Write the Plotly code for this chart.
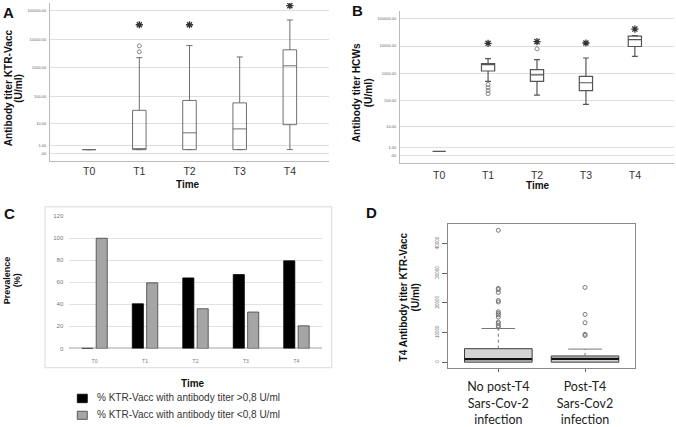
import numpy as np
import plotly.graph_objects as go

W, H = 676, 427
def px(x): return x / W
def py(y): return 1 - y / H
def tr(v): return np.log10(np.asarray(v, dtype=float) + 1)

time_labels = ["T0", "T1", "T2", "T3", "T4"]
log_ticks = [0, 1, 10, 100, 1000, 10000, 100000]
log_tick_text = [".00", "1.00", "10.00", "100.00", "1000.00", "10000.00", "100000.00"]

# Panel A: KTR-Vacc antibody titer (U/ml)
a_lower = [0.4, 0.4, 0.4, 0.4, 0.4]
a_q1 = [0.4, 0.4, 0.4, 0.4, 9.4]
a_median = [0.4, 0.4, 4.4, 6.4, 1180]
a_q3 = [0.4, 32, 72, 59, 4270]
a_upper = [0.4, 2270, 6000, 2400, 47000]
a_out_x = ["T1", "T1"]
a_out_y = [3640, 5870]
a_star_x = ["T1", "T2", "T4"]
a_star_y = [32000, 32000, 148000]

# Panel B: HCWs antibody titer (U/ml)
b_lower = [0.4, 505, 158, 73, 4200]
b_q1 = [0.4, 1220, 505, 234, 9600]
b_median = [0.4, 2250, 875, 453, 17200]
b_q3 = [0.4, 2290, 1360, 780, 23200]
b_upper = [0.4, 3450, 3200, 3650, 24000]
b_out_x = ["T1", "T1", "T1", "T1", "T2"]
b_out_y = [390, 300, 235, 180, 7900]
b_star_x = ["T1", "T2", "T3", "T4"]
b_star_y = [12600, 14500, 12900, 41700]

# Panel C: prevalence (%)
c_above = [0, 40.5, 64, 67, 79.5]
c_below = [100, 59.5, 36, 33, 20.5]
c_names = ["% KTR-Vacc with antibody titer >0,8 U/ml",
           "% KTR-Vacc with antibody titer <0,8 U/ml"]

# Panel D: T4 titer by post-T4 infection
d_groups = ["No post-T4<br>Sars-Cov-2<br>infection", "Post-T4<br>Sars-Cov2<br>infection"]
d_q1 = [0, 0]
d_median = [1000, 1100]
d_q3 = [4540, 2090]
d_upper = [11360, 4400]
d_ticks = [0, 10000, 20000, 30000, 40000]
d_out_g = [0] * 14 + [1] * 5
d_out_y = [44500, 24900, 24500, 23500, 20800, 20300, 17000, 16500, 16000, 15200,
           13500, 13000, 12300, 11800,
           25200, 16100, 13300, 9400, 9000]

fig = go.Figure()

def log_box(x, lo, q1, med, q3, up, xa, ya, color, lw):
    fig.add_trace(go.Box(x=x, q1=tr(q1), median=tr(med), q3=tr(q3),
                         lowerfence=tr(lo), upperfence=tr(up), width=0.27,
                         whiskerwidth=0.45, fillcolor="rgba(255,255,255,0)",
                         line=dict(color=color, width=lw), boxpoints=False,
                         xaxis=xa, yaxis=ya, showlegend=False, hoverinfo="skip"))

log_box(time_labels, a_lower, a_q1, a_median, a_q3, a_upper, "x", "y", "#6e6e6e", 1)
fig.add_trace(go.Scatter(x=a_out_x, y=tr(a_out_y), mode="markers", xaxis="x", yaxis="y",
                         marker=dict(symbol="circle-open", size=4, color="#888", line=dict(width=1)),
                         showlegend=False, hoverinfo="skip"))
fig.add_trace(go.Scatter(x=a_star_x, y=tr(a_star_y), mode="markers", xaxis="x", yaxis="y",
                         marker=dict(symbol="asterisk-open", size=6, color="#333", line=dict(width=1.3)),
                         showlegend=False, hoverinfo="skip"))

log_box(time_labels, b_lower, b_q1, b_median, b_q3, b_upper, "x2", "y2", "#555", 1.2)
fig.add_trace(go.Scatter(x=b_out_x, y=tr(b_out_y), mode="markers", xaxis="x2", yaxis="y2",
                         marker=dict(symbol="circle-open", size=4, color="#888", line=dict(width=1)),
                         showlegend=False, hoverinfo="skip"))
fig.add_trace(go.Scatter(x=b_star_x, y=tr(b_star_y), mode="markers", xaxis="x2", yaxis="y2",
                         marker=dict(symbol="asterisk-open", size=6, color="#333", line=dict(width=1.3)),
                         showlegend=False, hoverinfo="skip"))

fig.add_trace(go.Bar(x=time_labels, y=c_above, name=c_names[0], xaxis="x3", yaxis="y3",
                     marker=dict(color="#000", line=dict(color="#000", width=0.8)),
                     showlegend=False, hoverinfo="skip"))
fig.add_trace(go.Bar(x=time_labels, y=c_below, name=c_names[1], xaxis="x3", yaxis="y3",
                     marker=dict(color="#a5a5a5", line=dict(color="#404040", width=0.8)),
                     showlegend=False, hoverinfo="skip"))

fig.add_trace(go.Box(x=d_groups, q1=d_q1, median=d_median, q3=d_q3,
                     lowerfence=d_q1, upperfence=d_q3, width=0.78, whiskerwidth=0,
                     fillcolor="#d3d3d3", line=dict(color="#3a3a3a", width=1),
                     boxpoints=False, xaxis="x4", yaxis="y4", showlegend=False, hoverinfo="skip"))
for i, g in enumerate(d_groups):
    fig.add_trace(go.Scatter(x=[g, g], y=[d_q3[i], d_upper[i]], mode="lines", xaxis="x4", yaxis="y4",
                             line=dict(color="#777", width=1, dash="dot"),
                             showlegend=False, hoverinfo="skip"))
fig.add_trace(go.Scatter(x=d_groups, y=d_upper, mode="markers", xaxis="x4", yaxis="y4",
                         marker=dict(symbol="line-ew", size=24, line=dict(color="#777", width=1)),
                         showlegend=False, hoverinfo="skip"))
fig.add_trace(go.Scatter(x=d_groups, y=d_median, mode="markers", xaxis="x4", yaxis="y4",
                         marker=dict(symbol="line-ew", size=48, line=dict(color="#111", width=2.2)),
                         showlegend=False, hoverinfo="skip"))
fig.add_trace(go.Scatter(x=[d_groups[g] for g in d_out_g], y=d_out_y, mode="markers",
                         xaxis="x4", yaxis="y4",
                         marker=dict(symbol="circle-open", size=4, color="#777", line=dict(width=1)),
                         showlegend=False, hoverinfo="skip"))

tick_small = dict(size=4, color="#666")
fig.update_layout(
    width=W, height=427, margin=dict(l=0, r=0, t=0, b=0),
    paper_bgcolor="white", plot_bgcolor="white",
    font=dict(family="Liberation Sans", color="#222"),
    barmode="group", bargap=0.43, bargroupgap=0.23,
    xaxis=dict(domain=[px(50), px(329)], anchor="y", type="category", range=[-0.78, 4.78],
               showline=True, linecolor="#bbb", showgrid=False, ticks="",
               tickfont=dict(size=10.5, color="#333"), ticklabelstandoff=0),
    yaxis=dict(domain=[py(161.3), py(0)], anchor="x", range=[-0.26, 5.264],
               tickvals=tr(log_ticks), ticktext=log_tick_text, tickfont=tick_small,
               showgrid=True, gridcolor="#dedede", showline=True, linecolor="#bbb",
               zeroline=False, ticks="", ticklabelstandoff=2),
    xaxis2=dict(domain=[px(400), px(674)], anchor="y2", type="category", range=[-0.80, 4.80],
                showline=True, linecolor="#bbb", showgrid=False, ticks="",
                tickfont=dict(size=10.5, color="#333"), ticklabelstandoff=2),
    yaxis2=dict(domain=[py(163.3), py(8)], anchor="x2", range=[-0.287, 5.287],
                tickvals=tr(log_ticks), ticktext=log_tick_text, tickfont=tick_small,
                showgrid=True, gridcolor="#dedede", showline=True, linecolor="#bbb",
                zeroline=False, ticks="", ticklabelstandoff=2),
    xaxis3=dict(domain=[px(69.3), px(321.7)], anchor="y3", type="category",
                showline=False, showgrid=False, ticks="",
                tickfont=dict(size=5, color="#777"), ticklabelstandoff=9),
    yaxis3=dict(domain=[py(352), py(217.3)], anchor="x3", range=[0, 120], dtick=20,
                showgrid=True, gridcolor="#e2e2e2", zeroline=True, zerolinecolor="#d0d0d0",
                showline=False, ticks="", tickfont=dict(size=6, color="#777"), ticklabelstandoff=5),
    xaxis4=dict(domain=[px(448.3), px(634.7)], anchor="y4", type="category", range=[-0.577, 1.573],
                showline=True, mirror=True, linecolor="#888", showgrid=False,
                ticks="outside", ticklen=3, tickcolor="#666",
                tickfont=dict(family="Lato", size=12.5, color="#222"), ticklabelstandoff=4),
    yaxis4=dict(domain=[py(372.3), py(225)], anchor="x4", range=[-2086, 46690],
                tickvals=d_ticks, ticktext=[str(v) for v in d_ticks], tickangle=-90,
                showline=True, mirror=True, linecolor="#888", showgrid=False, zeroline=False,
                ticks="outside", ticklen=5, tickcolor="#666",
                tickfont=dict(size=4.5, color="#666"), ticklabelstandoff=2),
)

def ann(x, y, text, size, bold=False, angle=0, color="#111", xanchor="center", family=None):
    t = f"<b>{text}</b>" if bold else text
    f = dict(size=size, color=color)
    if family:
        f["family"] = family
    fig.add_annotation(x=px(x), y=py(y), xref="paper", yref="paper", text=t, showarrow=False,
                       font=f, textangle=angle, xanchor=xanchor, yanchor="middle")

ann(8, 10, "A", 15, True)
ann(357.5, 8, "B", 15, True)
ann(9, 214.5, "C", 15, True)
ann(371.5, 213, "D", 15, True)

ann(8, 87, "Antibody titer KTR-Vacc", 10.2, True, -90)
ann(18.5, 87, "(U/ml)", 10.2, True, -90)
ann(356, 92, "Antibody titer HCWs", 10.2, True, -90)
ann(368, 92, "(U/ml)", 10.2, True, -90)
ann(6.5, 283, "Prevalence", 9, True, -90)
ann(16.5, 283, "(%)", 9, True, -90)
ann(403, 300, "T4 Antibody titer KTR-Vacc", 10, True, -90)
ann(415, 300, "(U/ml)", 10, True, -90)

ann(188.3, 184.5, "Time", 10, True)
ann(538, 186, "Time", 10, True)
ann(193, 388, "Time", 10, True)

# Panel C frame and legend
fig.add_shape(type="rect", xref="paper", yref="paper", x0=px(45), x1=px(331.7),
              y0=py(371.7), y1=py(207.7), line=dict(color="#d9d9d9", width=1))
fig.add_shape(type="rect", xref="paper", yref="paper", x0=px(77.3), x1=px(87.3),
              y0=py(407.3), y1=py(398.7), fillcolor="#000", line=dict(color="#000", width=0.8))
fig.add_shape(type="rect", xref="paper", yref="paper", x0=px(77.3), x1=px(87.3),
              y0=py(424.3), y1=py(416), fillcolor="#a5a5a5", line=dict(color="#404040", width=0.8))
ann(95, 402.5, c_names[0], 10, False, 0, "#333", "left")
ann(95, 419.5, c_names[1], 10, False, 0, "#333", "left")

fig.write_html("out.html", config={"displayModeBar": False},
               post_script="document.body.style.margin='0';document.body.style.overflow='hidden';")
